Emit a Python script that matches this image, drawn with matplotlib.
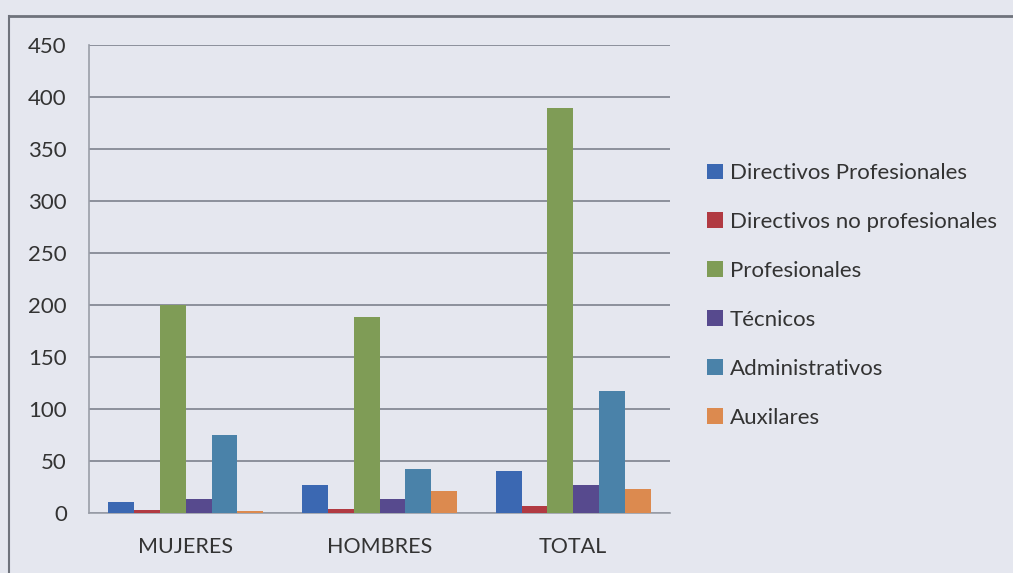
import matplotlib.pyplot as plt
import numpy as np
from matplotlib.lines import Line2D

plt.rcParams['font.family'] = ['Lato', 'DejaVu Sans']

categorias = ["MUJERES", "HOMBRES", "TOTAL"]
series = ["Directivos Profesionales", "Directivos no profesionales", "Profesionales",
          "Técnicos", "Administrativos", "Auxilares"]
dir_prof = [11, 27, 40]
dir_no_prof = [3, 4, 7]
profesionales = [200, 188, 389]
tecnicos = [13, 13, 27]
administrativos = [75, 42, 117]
auxilares = [2, 21, 23]
colores = ["#3b68b2", "#b13a42", "#7f9c56", "#574a8e", "#4a82a9", "#dc8a4f"]

valores = [dir_prof, dir_no_prof, profesionales, tecnicos, administrativos, auxilares]

bg = "#e5e7ef"
fig = plt.figure(figsize=(10.13, 5.73), dpi=100, facecolor=bg)
ax = fig.add_axes([89 / 1013, 60 / 573, 581 / 1013, 468 / 573])
ax.set_facecolor(bg)

x = np.arange(len(categorias))
w = 0.8 / len(series)
for i, (nombre, vals) in enumerate(zip(series, valores)):
    ax.bar(x - 0.4 + w * (i + 0.5), vals, width=w, color=colores[i], label=nombre, zorder=3)

ax.set_xlim(-0.5, 2.5)
ax.set_ylim(0, 450)
ax.set_yticks(range(0, 451, 50))
ax.set_xticks(x)
ax.set_xticklabels(categorias)
ax.yaxis.grid(True, color="#8c909b", linewidth=1.4, zorder=0)
ax.tick_params(axis='y', length=0, labelsize=16, colors="#333333", pad=16)
ax.tick_params(axis='x', length=0, labelsize=15.5, colors="#333333", pad=17)
for s in ["top", "right"]:
    ax.spines[s].set_visible(False)
ax.spines["left"].set_color("#9a9ea8")
ax.spines["bottom"].set_color("#9a9ea8")
ax.spines["left"].set_linewidth(1.2)
ax.spines["bottom"].set_linewidth(1.2)

leg = ax.legend(loc="center left", bbox_to_anchor=(1.03, 0.465), frameon=False,
                fontsize=16, handlelength=0.7, handleheight=0.7,
                handletextpad=0.3, labelspacing=1.3, labelcolor="#333333")

# marco exterior
fig.add_artist(Line2D([9 / 1013, 1], [1 - 16 / 573, 1 - 16 / 573], color="#6f737c", linewidth=2))
fig.add_artist(Line2D([9 / 1013, 9 / 1013], [0, 1 - 16 / 573], color="#6f737c", linewidth=1.5))

fig.savefig("out.png", dpi=100, facecolor=bg)
